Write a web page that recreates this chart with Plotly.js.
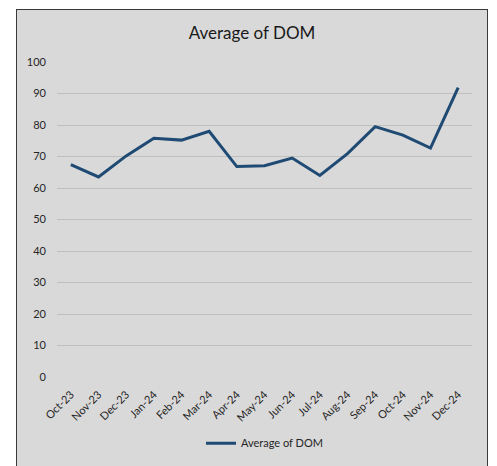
<!DOCTYPE html>
<html>
<head>
<meta charset="utf-8">
<script src="https://cdn.plot.ly/plotly-3.0.1.min.js"></script>
<style>
  html, body { margin: 0; padding: 0; background: #ffffff; width: 497px; height: 466px; overflow: hidden; }
  #frame { position: absolute; left: 16px; top: 9px; width: 472px; height: 462px; box-sizing: border-box; border: 1px solid #3a3a3a; background: #d9d9d9; }
  #chart { position: absolute; left: 0; top: 0; width: 470px; height: 460px; }
</style>
</head>
<body>
<div id="frame"><div id="chart"></div></div>
<script>
const months = ["Oct-23","Nov-23","Dec-23","Jan-24","Feb-24","Mar-24","Apr-24","May-24","Jun-24","Jul-24","Aug-24","Sep-24","Oct-24","Nov-24","Dec-24"];
const avgDOM = [67.4, 63.5, 70.2, 75.8, 75.2, 78.0, 66.8, 67.1, 69.5, 64.0, 70.9, 79.5, 76.8, 72.7, 91.9];
const yTicks = [0, 10, 20, 30, 40, 50, 60, 70, 80, 90, 100];

const trace = {
  x: months,
  y: avgDOM,
  type: "scatter",
  mode: "lines",
  name: "Average of DOM",
  line: { color: "#1f4a73", width: 3 }
};

const layout = {
  width: 470,
  height: 460,
  paper_bgcolor: "#d9d9d9",
  plot_bgcolor: "#d9d9d9",
  font: { family: "Lato, 'Noto Sans', sans-serif", size: 11, color: "#262626" },
  margin: { l: 40, r: 15, t: 52, b: 83 },
  title: { text: "Average of DOM", x: 0.5, xanchor: "center", y: 0.95, yanchor: "middle",
           font: { size: 17, color: "#1a1a1a" } },
  xaxis: {
    type: "category",
    range: [-0.5, months.length - 0.5],
    tickangle: -45,
    showgrid: false,
    zeroline: false,
    showline: false,
    ticks: "",
    ticklabelstandoff: 8,
    tickfont: { size: 11, color: "#262626" }
  },
  yaxis: {
    range: [0, 100],
    tickvals: yTicks,
    showgrid: true,
    gridcolor: "#bfbfbf",
    gridwidth: 1,
    zeroline: false,
    showline: false,
    ticks: "",
    ticklabelstandoff: 10,
    tickfont: { size: 11, color: "#262626" }
  },
  showlegend: true,
  legend: {
    orientation: "h",
    x: 0.5, xanchor: "center",
    y: -0.21, yanchor: "middle",
    bgcolor: "rgba(0,0,0,0)",
    font: { size: 11, color: "#262626" },
    itemwidth: 30
  }
};

Plotly.newPlot("chart", [trace], layout, { displayModeBar: false, staticPlot: true });
</script>
</body>
</html>
